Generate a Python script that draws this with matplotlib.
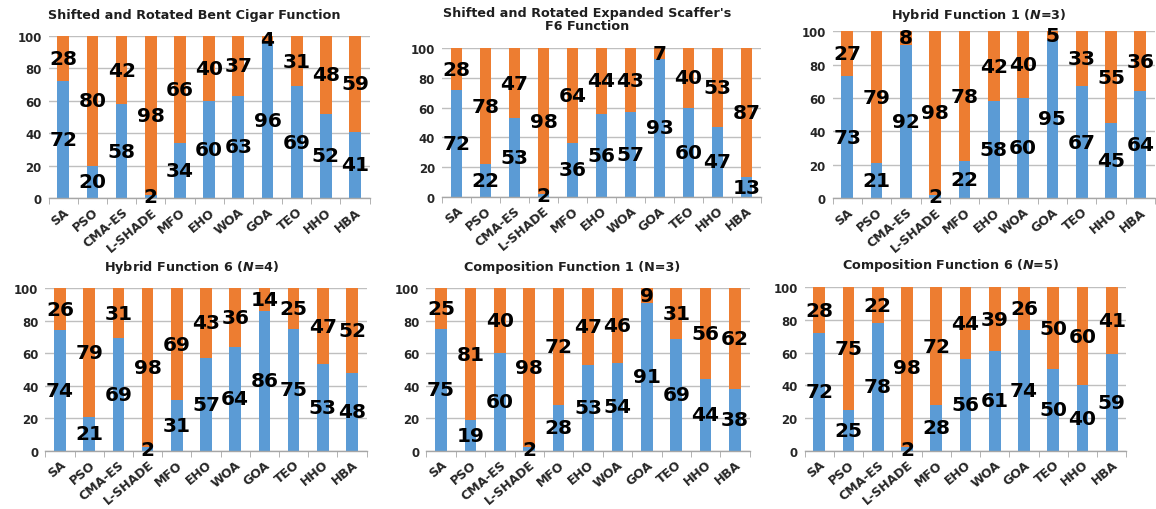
import matplotlib
matplotlib.use("Agg")
import matplotlib.pyplot as plt
import numpy as np

plt.rcParams["font.family"] = ["DejaVu Sans"]
plt.rcParams["font.weight"] = "bold"
plt.rcParams["mathtext.fontset"] = "custom"
plt.rcParams["mathtext.it"] = "DejaVu Sans:bold:italic"
plt.rcParams["mathtext.rm"] = "DejaVu Sans:bold"

algorithms = ["SA", "PSO", "CMA-ES", "L-SHADE", "MFO", "EHO", "WOA", "GOA", "TEO", "HHO", "HBA"]

titles = [
    "Shifted and Rotated Bent Cigar Function",
    "Shifted and Rotated Expanded Scaffer's\nF6 Function",
    "Hybrid Function 1 ($N$=3)",
    "Hybrid Function 6 ($N$=4)",
    "Composition Function 1 (N=3)",
    "Composition Function 6 ($N$=5)",
]

# blue (lower) and orange (upper) shares, in percent
bent_cigar_blue = [72, 20, 58, 2, 34, 60, 63, 96, 69, 52, 41]
bent_cigar_orange = [28, 80, 42, 98, 66, 40, 37, 4, 31, 48, 59]

scaffer_f6_blue = [72, 22, 53, 2, 36, 56, 57, 93, 60, 47, 13]
scaffer_f6_orange = [28, 78, 47, 98, 64, 44, 43, 7, 40, 53, 87]

hybrid1_blue = [73, 21, 92, 2, 22, 58, 60, 95, 67, 45, 64]
hybrid1_orange = [27, 79, 8, 98, 78, 42, 40, 5, 33, 55, 36]

hybrid6_blue = [74, 21, 69, 2, 31, 57, 64, 86, 75, 53, 48]
hybrid6_orange = [26, 79, 31, 98, 69, 43, 36, 14, 25, 47, 52]

composition1_blue = [75, 19, 60, 2, 28, 53, 54, 91, 69, 44, 38]
composition1_orange = [25, 81, 40, 98, 72, 47, 46, 9, 31, 56, 62]

composition6_blue = [72, 25, 78, 2, 28, 56, 61, 74, 50, 40, 59]
composition6_orange = [28, 75, 22, 98, 72, 44, 39, 26, 50, 60, 41]

blue_series = [bent_cigar_blue, scaffer_f6_blue, hybrid1_blue,
               hybrid6_blue, composition1_blue, composition6_blue]
orange_series = [bent_cigar_orange, scaffer_f6_orange, hybrid1_orange,
                 hybrid6_orange, composition1_orange, composition6_orange]

BLUE = "#5B9BD5"
ORANGE = "#ED7D31"

W, H = 1156, 510
fig = plt.figure(figsize=(W / 100, H / 100), dpi=100)

# axes boxes in pixels: left, right, top(y of 100), bottom(y of 0)
boxes = [
    (48.7, 369.6, 37.0, 199.0),
    (442.0, 761.0, 49.3, 197.7),
    (832.6, 1155.0, 32.3, 199.0),
    (45.4, 366.6, 289.0, 451.7),
    (426.3, 749.7, 289.3, 451.7),
    (804.7, 1126.3, 288.3, 451.7),
]
title_pos = [
    (194, 15), (587, 20), (979, 15),
    (192, 267), (572, 267), (951, 266),
]

x = np.arange(len(algorithms))
for k in range(6):
    l, r, t, b = boxes[k]
    ax = fig.add_axes([l / W, 1 - b / H, (r - l) / W, (b - t) / H])
    blue = np.array(blue_series[k])
    orange = np.array(orange_series[k])
    ax.bar(x, blue, width=0.4, color=BLUE, zorder=2)
    ax.bar(x, orange, width=0.4, bottom=blue, color=ORANGE, zorder=2)
    for i in range(len(x)):
        ax.text(x[i], blue[i] / 2, str(blue[i]), ha="center", va="center",
                fontsize=14.5, fontweight="bold", color="black", zorder=4)
        ax.text(x[i], blue[i] + orange[i] / 2, str(orange[i]), ha="center", va="center",
                fontsize=14.5, fontweight="bold", color="black", zorder=4)
    ax.set_xlim(-0.5, len(x) - 0.5)
    ax.set_ylim(0, 100)
    ax.set_yticks(range(0, 101, 20))
    ax.yaxis.grid(True, color="#BFBFBF", linewidth=1.0, zorder=0)
    ax.set_axisbelow(True)
    for s in ["top", "right", "left"]:
        ax.spines[s].set_visible(False)
    ax.spines["bottom"].set_color("#A6A6A6")
    ax.spines["bottom"].set_linewidth(1.0)
    ax.tick_params(axis="y", length=0, pad=5, labelsize=8.5, labelcolor="#262626")
    ax.set_xticks(x)
    ax.set_xticklabels(algorithms, rotation=40, ha="right", rotation_mode="anchor",
                       fontsize=9, fontweight="bold", color="#262626")
    ax.tick_params(axis="x", which="major", length=0, pad=5)
    ax.set_xticks(np.arange(-0.5, len(x), 1.0), minor=True)
    ax.tick_params(axis="x", which="minor", length=4, color="#A6A6A6", direction="out")
    for lab in ax.get_yticklabels():
        lab.set_fontweight("bold")
    tx, ty = title_pos[k]
    fig.text(tx / W, 1 - ty / H, titles[k], ha="center", va="center",
             fontsize=9.2, fontweight="bold", color="#1F1F1F", linespacing=1.1)

fig.savefig("out.png", dpi=100)
